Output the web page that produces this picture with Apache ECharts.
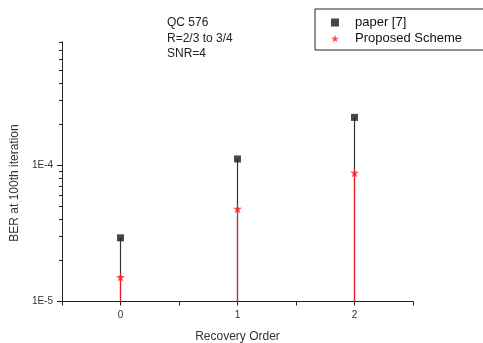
<!DOCTYPE html>
<html>
<head>
<meta charset="utf-8">
<script src="https://cdn.jsdelivr.net/npm/echarts@6/dist/echarts.min.js"></script>
<style>
  html, body { margin: 0; padding: 0; background: #fff; }
  #chart { width: 483px; height: 343px; }
</style>
</head>
<body>
<div id="chart"></div>
<script>
// recovery order on x, BER at 100th iteration on y (log)
const orders = [0, 1, 2];
const paperBer = [2.93e-5, 1.11e-4, 2.24e-4];
const proposedBer = [1.51e-5, 4.79e-5, 8.8e-5];
const majorTicks = [1e-5, 1e-4];
const minorTicks = [2e-5, 3e-5, 4e-5, 5e-5, 6e-5, 7e-5, 8e-5, 9e-5,
  2e-4, 3e-4, 4e-4, 5e-4, 6e-4, 7e-4, 8e-4];
const noteLines = ['QC 576', 'R=2/3 to 3/4', 'SNR=4'];

const yMin = 1e-5, yMax = 8e-4;
const font = 'Liberation Sans, Arial, sans-serif';
const star = 'path://M50,0 L61,35 L98,35 L68,57 L79,91 L50,70 L21,91 L32,57 L2,35 L39,35 Z';

const chart = echarts.init(document.getElementById('chart'));

// vertical drop line from value down to the axis
function stem(color) {
  return function (params, api) {
    const top = api.coord([api.value(0), api.value(1)]);
    const bottom = api.coord([api.value(0), yMin]);
    return {
      type: 'line',
      shape: { x1: top[0], y1: top[1], x2: bottom[0], y2: bottom[1] },
      style: { stroke: color, lineWidth: 1.2 }
    };
  };
}

const pts = (vals) => orders.map((o, i) => [o, vals[i]]);

const yBase = {
  type: 'log',
  logBase: 10,
  min: yMin,
  max: yMax,
  position: 'left',
  splitLine: { show: false },
  axisLine: { show: true, onZero: false, lineStyle: { color: '#222', width: 1 } }
};

const option = {
  animation: false,
  backgroundColor: '#fff',
  grid: { left: 62, right: 70, top: 42, bottom: 41.5, outerBoundsMode: 'none', containLabel: false },
  xAxis: {
    type: 'value',
    min: -0.5,
    max: 2.5,
    interval: 0.5,
    splitLine: { show: false },
    axisLine: { onZero: false, lineStyle: { color: '#222', width: 1 } },
    axisTick: { length: 4, lineStyle: { color: '#222' } },
    axisLabel: {
      color: '#333', fontSize: 10, fontFamily: font, margin: 9,
      formatter: v => (Number.isInteger(v) && v >= 0 && v <= 2) ? String(v) : ''
    },
    name: 'Recovery Order',
    nameLocation: 'middle',
    nameGap: 29,
    nameTextStyle: { color: '#333', fontSize: 12, fontFamily: font }
  },
  yAxis: [
    Object.assign({}, yBase, {
      axisTick: { show: true, length: 5, customValues: majorTicks, lineStyle: { color: '#222' } },
      axisLabel: {
        color: '#333', fontSize: 10, fontFamily: font, margin: 9,
        customValues: majorTicks,
        formatter: v => '1E' + Math.round(Math.log10(v))
      }
    }),
    Object.assign({}, yBase, {
      axisTick: { show: true, length: 3, customValues: minorTicks, lineStyle: { color: '#222' } },
      axisLabel: { show: false }
    })
  ],
  legend: {
    left: 326,
    top: 11,
    orient: 'vertical',
    itemWidth: 8,
    itemHeight: 8,
    itemGap: 3,
    textStyle: { color: '#111', fontSize: 13, fontFamily: font, padding: [0, 0, 0, 11] },
    data: [
      { name: 'paper [7]', icon: 'rect' },
      { name: 'Proposed Scheme', icon: star }
    ]
  },
  graphic: [
    {
      type: 'rect',
      shape: { x: 315, y: 9, width: 200, height: 41 },
      style: { fill: 'none', stroke: '#222', lineWidth: 1 },
      z: 0
    },
    {
      type: 'text',
      left: 167,
      top: 15,
      style: {
        text: noteLines.join('\n'),
        fontSize: 12,
        lineHeight: 15.5,
        fontFamily: font,
        fill: '#222'
      }
    },
    {
      type: 'text',
      x: 15,
      y: 183,
      rotation: Math.PI / 2,
      style: {
        text: 'BER at 100th iteration',
        fontSize: 12,
        fontFamily: font,
        fill: '#333',
        align: 'center',
        verticalAlign: 'middle'
      }
    }
  ],
  series: [
    {
      type: 'custom',
      name: 'paper stem',
      renderItem: stem('#333'),
      data: pts(paperBer),
      silent: true,
      z: 1
    },
    {
      type: 'custom',
      name: 'proposed stem',
      renderItem: stem('#e0262b'),
      data: pts(proposedBer),
      silent: true,
      z: 2
    },
    {
      type: 'scatter',
      name: 'paper [7]',
      symbol: 'rect',
      symbolSize: 7,
      itemStyle: { color: '#1a1a1a' },
      data: pts(paperBer),
      z: 3
    },
    {
      type: 'scatter',
      name: 'Proposed Scheme',
      symbol: star,
      symbolSize: 9,
      itemStyle: { color: '#ff1a1a' },
      data: pts(proposedBer),
      z: 4
    }
  ]
};

chart.setOption(option);
</script>
</body>
</html>
